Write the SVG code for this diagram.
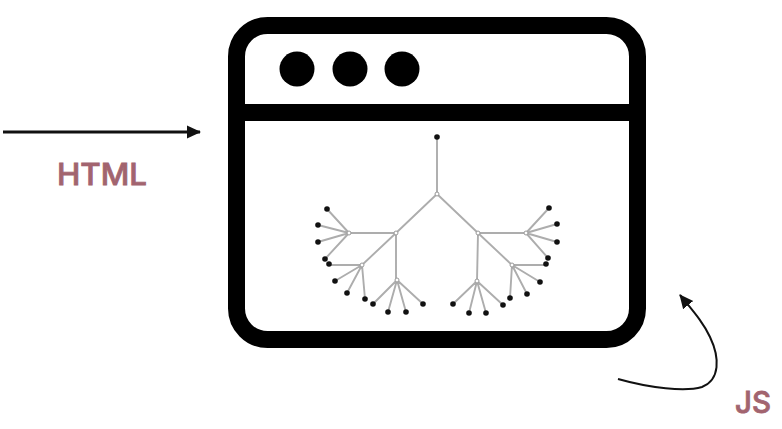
<svg xmlns="http://www.w3.org/2000/svg" width="782" height="429" viewBox="0 0 782 429">
<style>
.lbl{font-family:"Inter","Lato",sans-serif;font-size:30px;font-weight:500;fill:#a2646f;stroke:#a2646f;stroke-width:0.800}
.edge{fill:none;stroke:#adadad;stroke-width:1.900}
.leaf{fill:#111}
.inner{fill:#fff;stroke:#999;stroke-width:1}
.arrow{fill:none;stroke:#111}
.win{fill:none;stroke:#000;stroke-width:17}
</style>
<defs>
<marker id="head" markerUnits="userSpaceOnUse" markerWidth="15" markerHeight="15" refX="13" refY="7.500" orient="auto"><path d="M0 1 L14 7.500 L0 14 Z" fill="#111"/></marker>
</defs>
<rect width="782" height="429" fill="#fff"/>
<g id="window">
<rect class="win" x="236.500" y="25.500" width="401" height="314" rx="31"/>
<path class="win" d="M236 112.500H638"/>
<circle cx="297" cy="69" r="17.500"/><circle cx="350" cy="69" r="17.500"/><circle cx="402" cy="69" r="17.500"/>
</g>
<g id="connectors">
<path class="arrow" stroke-width="3" d="M3 132H200" marker-end="url(#head)"/>
<path class="arrow" stroke-width="2" d="M618 379C650 388 685 392 702 387C720 380 720 358 710 337C703 322 693 311 680 295" marker-end="url(#head)"/>
<path class="edge" d="M437 137V194M437 194L396 233M437 194L478 233M396 233H349M396 233L362 265M396 233V280M349 233L327 209M349 233L318 225M349 233L318 242M349 233L325 259M362 265H329M362 265L335 281M362 265L347 293M362 265L365 299M397 280L373 304M397 280L388 312M397 280L406 312M397 280L423 304M478 233H526M478 233L512 265M478 233L477 281M526 233L549 208M526 233L557 224M526 233L557 242M526 233L548 258M512 265H546M512 265L540 282M512 265L527 294M512 265L510 298M477 281L453 304M477 281L469 313M477 281L486 313M477 281L503 305"/>
</g>
<g id="tree-nodes">
<circle class="leaf" cx="437" cy="137" r="2.800"/>
<circle class="inner" cx="437" cy="194" r="2"/><circle class="inner" cx="396" cy="233" r="2"/><circle class="inner" cx="478" cy="233" r="2"/>
<circle class="inner" cx="349" cy="233" r="2"/><circle class="inner" cx="362" cy="265" r="2"/><circle class="inner" cx="397" cy="280" r="2"/>
<circle class="inner" cx="526" cy="233" r="2"/><circle class="inner" cx="512" cy="265" r="2"/><circle class="inner" cx="477" cy="281" r="2"/>
<g class="leaf">
<circle cx="327" cy="209" r="2.800"/><circle cx="318" cy="225" r="2.800"/><circle cx="318" cy="242" r="2.800"/><circle cx="325" cy="259" r="2.800"/>
<circle cx="329" cy="264" r="2.800"/><circle cx="335" cy="281" r="2.800"/><circle cx="347" cy="293" r="2.800"/><circle cx="365" cy="299" r="2.800"/>
<circle cx="373" cy="304" r="2.800"/><circle cx="388" cy="312" r="2.800"/><circle cx="406" cy="312" r="2.800"/><circle cx="423" cy="304" r="2.800"/>
<circle cx="549" cy="208" r="2.800"/><circle cx="557" cy="224" r="2.800"/><circle cx="557" cy="242" r="2.800"/><circle cx="548" cy="258" r="2.800"/>
<circle cx="546" cy="264" r="2.800"/><circle cx="540" cy="282" r="2.800"/><circle cx="527" cy="294" r="2.800"/><circle cx="510" cy="298" r="2.800"/>
<circle cx="453" cy="304" r="2.800"/><circle cx="469" cy="313" r="2.800"/><circle cx="486" cy="313" r="2.800"/><circle cx="503" cy="305" r="2.800"/>
</g>
</g>
<g id="label-html"><text class="lbl" x="57" y="185" textLength="90" lengthAdjust="spacingAndGlyphs">HTML</text></g>
<g id="label-js"><text class="lbl" x="735" y="413" textLength="36" lengthAdjust="spacingAndGlyphs">JS</text></g>
</svg>
